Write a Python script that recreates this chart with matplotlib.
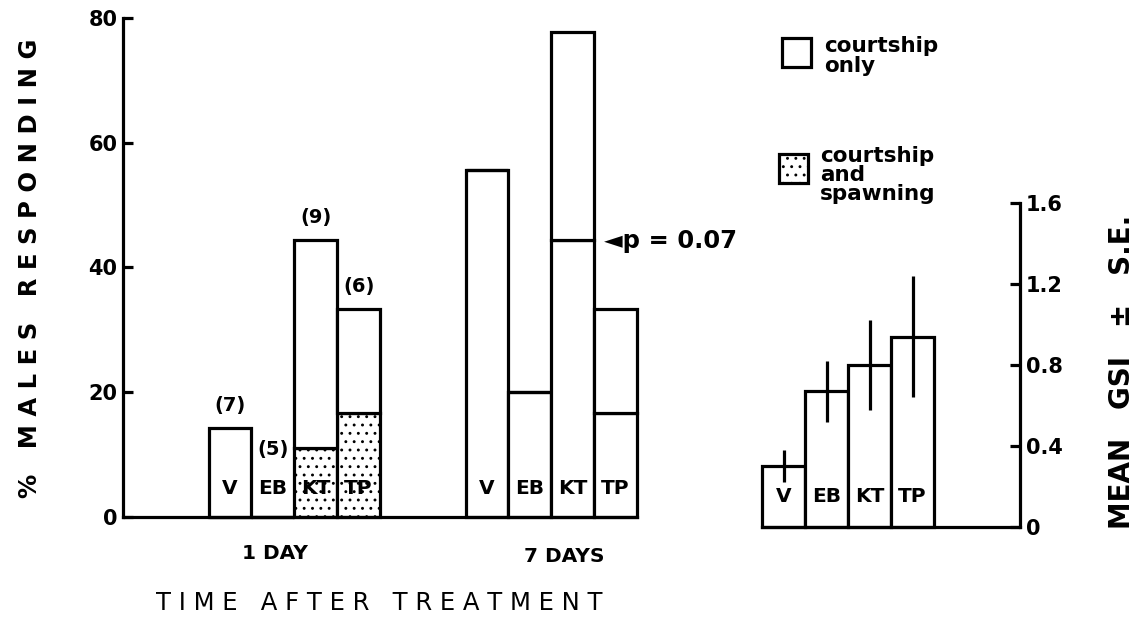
# libraries
import matplotlib.pyplot as plt
from matplotlib.patches import Rectangle

plt.rcParams['font.family'] = ['DejaVu Sans']
plt.rcParams['font.weight'] = 'bold'
plt.rcParams['hatch.linewidth'] = 0.9

# data: % males responding
treatments = ['V', 'EB', 'KT', 'TP']
n_males = ['(7)', '(5)', '(9)', '(6)']
spawn_1d = [0, 0, 11.1, 16.7]          # courtship and spawning (dotted)
court_1d = [14.3, 0, 33.3, 16.6]       # courtship only, stacked on top
lower_7d = [55.6, 20.0, 44.4, 16.7]
upper_7d = [0, 0, 33.4, 16.6]

# data: mean GSI +/- S.E.
gsi_mean = [0.30, 0.67, 0.80, 0.94]
gsi_se = [0.08, 0.15, 0.22, 0.30]

# positions
x_1d = [2.5, 3.5, 4.5, 5.5]
x_7d = [8.5, 9.5, 10.5, 11.5]
x_gsi = [0.5, 1.5, 2.5, 3.5]
lw = 2.3
dots = '..'

fig = plt.figure(figsize=(11.43, 6.21), dpi=100)
ax = fig.add_axes([0.1076, 0.1675, 0.4497, 0.8035])
ax2 = fig.add_axes([0.6667, 0.1514, 0.2257, 0.5217])

# left panel bars
bar_kw = dict(width=1, color='white', edgecolor='black', linewidth=lw, clip_on=False)
ax.bar(x_1d, spawn_1d, hatch=dots, **bar_kw)
ax.bar(x_1d, court_1d, bottom=spawn_1d, **bar_kw)
ax.bar(x_7d, lower_7d, **bar_kw)
ax.bar(x_7d, upper_7d, bottom=lower_7d, **bar_kw)

# bar letters
for xs in (x_1d, x_7d):
    for x, t in zip(xs, treatments):
        ax.text(x, 4.5, t, ha='center', va='center', fontsize=14.5, fontweight='bold')

# counts above the 1 day bars
for i, (x, n) in enumerate(zip(x_1d, n_males)):
    top = spawn_1d[i] + court_1d[i]
    y = top + 3.6 if top > 0 else 10.8
    ax.text(x, y, n, ha='center', va='center', fontsize=14, fontweight='bold')

ax.text(11.22, 44.2, '◄p = 0.07', ha='left', va='center', fontsize=17.5, fontweight='bold')

ax.set_xlim(0, 12)
ax.set_ylim(0, 80)
ax.set_yticks([0, 20, 40, 60, 80])
ax.set_xticks([])
ax.tick_params(axis='y', direction='in', length=7, width=lw, labelsize=15, pad=4)
ax.spines['top'].set_visible(False)
ax.spines['right'].set_visible(False)
ax.spines['left'].set_linewidth(lw)
ax.spines['bottom'].set_linewidth(lw)
ax.set_facecolor('none')

ax.text(3.55, -5.8, '1 DAY', ha='center', va='center', fontsize=14.5, fontweight='bold')
ax.text(10.3, -6.3, '7 DAYS', ha='center', va='center', fontsize=14.5, fontweight='bold')

# right panel: GSI
ax2.bar(x_gsi, gsi_mean, **bar_kw)
ax2.errorbar(x_gsi, gsi_mean, yerr=gsi_se, fmt='none', ecolor='black', elinewidth=lw, capsize=0)
for x, t in zip(x_gsi, treatments):
    ax2.text(x, 0.15, t, ha='center', va='center', fontsize=14.5, fontweight='bold')
ax2.set_xlim(0, 6)
ax2.set_ylim(0, 1.6)
ax2.set_yticks([0, 0.4, 0.8, 1.2, 1.6])
ax2.set_yticklabels(['0', '0.4', '0.8', '1.2', '1.6'])
ax2.set_xticks([])
ax2.yaxis.tick_right()
ax2.tick_params(axis='y', direction='in', length=7, width=lw, labelsize=15, pad=4)
ax2.spines['top'].set_visible(False)
ax2.spines['left'].set_visible(False)
ax2.spines['right'].set_linewidth(lw)
ax2.spines['bottom'].set_linewidth(lw)
ax2.set_facecolor('none')

# legend drawn by hand
fig.patches.append(Rectangle((782 / 1143, 1 - 67 / 621), 29 / 1143, 29 / 621, transform=fig.transFigure,
                             facecolor='white', edgecolor='black', linewidth=lw))
fig.patches.append(Rectangle((779 / 1143, 1 - 183 / 621), 29 / 1143, 29 / 621, transform=fig.transFigure,
                             facecolor='white', edgecolor='black', linewidth=lw, hatch=dots))
fig.text(824 / 1143, 1 - 56 / 621, 'courtship\nonly', ha='left', va='center', fontsize=15.5,
         fontweight='bold', linespacing=0.95)
fig.text(820 / 1143, 1 - 175 / 621, 'courtship\nand\nspawning', ha='left', va='center', fontsize=15.5,
         fontweight='bold', linespacing=0.95)

# axis titles, letter spaced
def spaced(s):
    return '   '.join(' '.join(w) for w in s.split(' '))

fig.text(30 / 1143, 1 - 268 / 621, spaced('% MALES RESPONDING'), rotation=90, ha='center', va='center',
         fontsize=17.5, fontweight='bold')
fig.text(379 / 1143, 1 - 603 / 621, spaced('TIME AFTER TREATMENT'), ha='center', va='center',
         fontsize=17.5, fontweight='normal')
fig.text(1122 / 1143, 1 - 372 / 621, 'MEAN   GSI   ±   S.E.', rotation=90, ha='center', va='center',
         fontsize=20, fontweight='bold')

fig.savefig('out.png', dpi=100)
